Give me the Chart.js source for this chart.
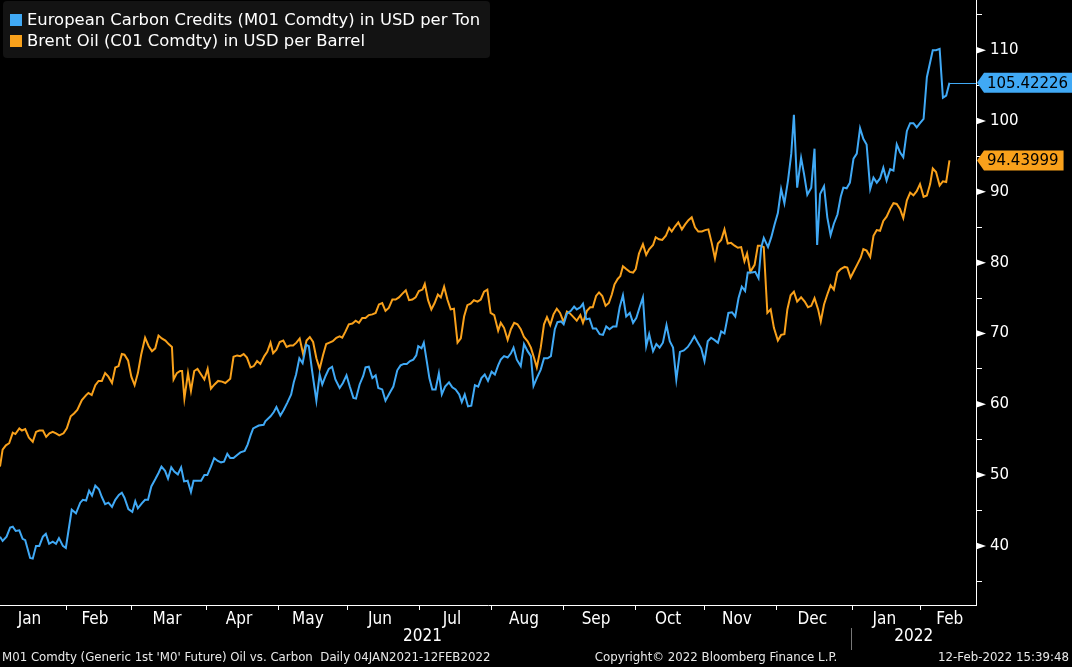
<!DOCTYPE html>
<html>
<head>
<meta charset="utf-8">
<script src="https://cdn.jsdelivr.net/npm/chart.js@4.4.0/dist/chart.umd.min.js"></script>
<style>
  html, body { margin: 0; padding: 0; background: #000; }
  #wrap { width: 1072px; height: 667px; }
</style>
</head>
<body>
<div id="wrap"><canvas id="chart" width="1072" height="667"></canvas></div>
<script>
// x = trading day index counted from 04-Jan-2021
const carbonDay = [
  0, 0.8, 2.0, 3.1, 3.9, 4.8, 5.9, 6.9, 7.7, 9.2, 10.0, 11.0, 12.0, 13.1, 14.0, 15.0, 16.1, 17.1, 18.0, 19.2,
  20.1, 21.9, 23.2, 24.5, 25.3, 26.3, 27.2, 28.1, 29.1, 30.2, 31.1, 32.1, 33.1, 34.2, 35.2, 36.3, 37.2, 38.0, 39.2, 40.4,
  41.3, 42.1, 43.3, 44.3, 45.2, 46.2, 47.4, 48.4, 49.3, 50.4, 51.3, 52.3, 53.2, 54.3, 55.3, 56.2, 57.3, 58.3, 59.1, 60.2,
  61.4, 62.4, 63.3, 64.4, 65.4, 66.5, 67.5, 68.4, 69.4, 70.3, 71.3, 72.6, 73.4, 74.7, 75.6, 76.5,
  77.3, 79.0, 80.5, 81.0, 82.6, 83.6, 84.4, 85.6, 86.6, 87.7, 88.9, 89.7, 90.4, 91.4, 92.4, 93.5, 94.3, 95.3, 96.6, 97.6,
  98.4, 99.4, 100.4, 101.4, 102.4, 103.7, 104.7, 105.8, 106.8, 107.9, 108.7, 109.8, 110.9, 111.6, 112.6, 113.7, 114.7, 115.5, 116.7, 117.7,
  119.1, 120.1, 121.3, 122.3, 123.3, 124.2, 125.2, 126.2, 127.1, 127.7, 128.7, 129.4, 130.3, 131.1, 132.0, 133.0, 134.0, 134.9, 135.9, 137.1,
  138.1, 139.1, 140.2, 141.0, 141.9, 142.9, 143.9, 145.0, 146.0, 147.0, 148.0, 149.0, 150.1, 151.1, 152.1, 152.9,
  153.9, 155.0, 156.0, 156.8, 157.8, 159.0, 160.0, 161.1, 162.1, 162.9, 163.9, 165.1, 166.1, 167.2, 168.2, 169.4, 170.2, 171.3, 172.1, 173.1,
  174.3, 175.3, 176.1, 177.2, 178.0, 179.0, 180.0, 181.0, 182.0, 183.1, 184.1, 185.1, 186.1, 187.2, 188.2, 189.2, 190.2, 191.2, 192.3, 193.3,
  194.3, 195.3, 196.3, 197.3, 198.2, 199.4, 200.4, 201.4, 202.4, 203.5, 204.5, 205.5, 206.5, 207.6, 208.8, 210.0, 211.0, 212.0, 213.1, 214.1,
  215.1, 216.1, 217.1, 218.1, 219.2, 220.2, 221.2, 222.4, 223.5, 224.5, 225.5, 226.5, 227.5, 228.3, 229.6, 230.6, 231.6, 232.4,
  233.2, 234.5, 235.5, 236.5, 237.5, 238.5, 239.5, 240.6, 241.6, 242.4, 243.4, 244.6, 245.5, 246.5, 247.7, 248.7, 249.5, 250.4, 251.6, 252.6,
  253.6, 254.6, 255.7, 256.7, 257.5, 258.5, 259.5, 260.6, 261.6, 262.6, 263.6, 264.6, 265.7, 266.7, 267.7, 268.7, 269.7, 270.7, 271.8, 272.8,
  273.8, 274.8, 275.8, 276.9, 277.9, 278.9, 279.9, 280.9, 282.0, 283.0, 284.0, 284.8, 285.8, 286.9, 287.9, 288.9, 289.9
];
const carbonPrice = [
  41.3, 40.7, 41.3, 42.6, 42.7, 42.1, 42.2, 41.0, 40.8, 38.3, 38.2, 40.0, 40.0, 41.3, 41.7, 40.3, 40.6, 40.3, 41.1, 40.0,
  39.7, 45.1, 44.6, 46.1, 46.5, 46.4, 47.8, 47.1, 48.5, 48.0, 46.9, 45.9, 46.1, 45.5, 46.5, 47.2, 47.5, 46.8, 45.2, 44.8,
  46.3, 45.3, 46.0, 46.5, 46.5, 48.4, 49.4, 50.3, 51.2, 50.6, 49.5, 51.1, 50.5, 50.1, 51.1, 49.1, 49.2, 47.6, 49.2, 49.2,
  49.2, 50.0, 50.0, 51.2, 52.4, 52.0, 51.8, 51.9, 53.0, 52.4, 52.4, 52.9, 53.2, 53.4, 54.3, 55.6,
  56.6, 57.0, 57.1, 57.6, 58.3, 58.9, 59.6, 58.4, 59.2, 60.2, 61.4, 63.1, 64.2, 66.5, 65.8, 68.4, 68.2, 64.7, 60.5, 64.2,
  62.8, 64.0, 65.0, 65.3, 63.5, 62.3, 63.0, 64.1, 62.5, 60.9, 60.8, 62.8, 64.0, 65.2, 65.3, 63.7, 64.1, 62.3, 62.1, 60.5,
  61.7, 62.5, 64.8, 65.5, 65.7, 65.7, 66.1, 66.3, 66.9, 68.2, 67.9, 68.7, 66.1, 63.7, 62.1, 62.1, 64.4, 61.4, 62.5, 63.1,
  62.4, 62.1, 61.4, 60.3, 61.4, 59.7, 59.8, 62.7, 62.5, 63.7, 64.2, 63.3, 64.6, 64.2, 65.5, 66.3,
  66.8, 66.6, 67.2, 68.0, 66.3, 65.4, 68.5, 67.5, 66.8, 62.6, 63.7, 64.9, 66.5, 66.5, 66.8, 70.6, 71.6, 71.7, 71.3, 72.8,
  73.2, 73.8, 73.4, 73.7, 74.2, 72.0, 72.1, 70.7, 70.7, 69.9, 69.8, 71.0, 70.6, 71.0, 71.0, 73.7, 75.4, 72.4, 72.9, 71.5,
  72.2, 73.7, 75.1, 68.2, 69.9, 67.5, 68.5, 68.0, 68.7, 71.2, 68.9, 68.0, 63.5, 67.4, 67.6, 68.1, 68.8, 69.6, 68.7, 67.9,
  66.1, 68.9, 69.4, 69.1, 68.7, 70.3, 70.0, 72.9, 73.0, 72.4, 75.0, 76.6, 76.0, 78.6, 78.6, 78.7, 77.8, 82.1,
  83.5, 82.2, 83.6, 85.4, 87.0, 90.4, 88.4, 91.6, 95.4, 100.9, 90.6, 94.8, 92.5, 89.6, 90.6, 96.1, 82.5, 89.7, 90.8, 86.4,
  83.9, 85.5, 86.8, 89.3, 90.6, 90.5, 91.3, 94.7, 95.4, 99.0, 97.5, 96.7, 90.4, 92.0, 91.3, 91.9, 93.4, 91.6, 93.2, 93.0,
  96.7, 95.6, 94.9, 98.6, 99.7, 99.7, 99.1, 99.7, 100.3, 106.2, 108.3, 110.0, 110.0, 110.2, 103.3, 103.6, 105.42226
];

const oilDay = [
  0, 0.8, 1.8, 2.8, 3.9, 4.7, 5.9, 6.7, 7.7, 8.8, 10.0, 11.0, 12.0, 13.1, 14.1, 15.1, 16.1, 17.1, 18.1, 19.4,
  20.4, 21.6, 22.6, 23.6, 25.0, 26.3, 27.0, 28.0, 29.1, 30.1, 31.1, 32.1, 33.1, 34.2, 35.2, 36.2, 37.2, 38.0, 39.1, 40.1,
  41.1, 42.1, 43.1, 44.3, 45.4, 46.4, 47.4, 48.4, 49.4, 50.5, 51.5, 52.5, 53.0, 54.0, 55.0, 55.6, 56.3, 57.4, 58.3, 59.3,
  60.3, 61.4, 62.4, 63.4, 64.4, 65.5, 66.6, 67.8, 68.8, 70.3, 71.3, 72.4, 73.4, 74.4, 75.4, 76.5,
  77.5, 78.5, 79.5, 80.7, 81.6, 82.6, 83.4, 84.4, 85.4, 86.5, 87.5, 88.5, 89.5, 90.5, 91.5, 92.6, 93.6, 94.6, 95.6, 96.6,
  97.6, 98.6, 99.6, 100.6, 101.6, 102.7, 103.7, 104.5, 105.5, 106.5, 107.6, 108.6, 109.6, 110.6, 111.6, 112.6, 113.7, 114.7, 115.7, 116.7,
  117.7, 118.7, 119.8, 120.8, 121.8, 122.8, 123.9, 124.9, 125.9, 126.9, 127.9, 129.0, 129.7, 130.7, 131.7, 132.7, 133.7, 134.6, 135.6, 136.6,
  137.6, 138.6, 139.7, 140.7, 141.7, 142.7, 143.7, 144.7, 145.8, 146.8, 147.8, 148.8, 149.8, 150.9, 152.1, 152.9,
  153.9, 155.0, 156.0, 157.0, 158.0, 159.0, 160.0, 161.1, 162.1, 163.1, 163.9, 165.1, 166.1, 167.0, 168.0, 169.0, 170.0, 171.0, 172.1, 173.1,
  174.1, 175.1, 176.1, 177.2, 178.0, 179.2, 180.2, 181.0, 182.0, 182.9, 183.9, 184.9, 185.9, 186.8, 187.6, 188.6, 189.4, 190.2, 191.2, 192.3,
  193.3, 194.1, 195.1, 196.3, 197.3, 198.2, 199.4, 200.2, 201.2, 202.2, 203.3, 204.3, 205.1, 206.1, 207.1, 208.2, 209.2, 210.2, 211.2, 212.2,
  213.2, 214.3, 215.3, 216.3, 217.3, 218.3, 219.2, 220.2, 221.2, 222.2, 223.2, 224.3, 225.3, 226.3, 227.3, 228.1, 229.1, 230.4, 231.4, 232.2,
  233.2, 234.3, 235.3, 236.3, 237.5, 238.5, 239.5, 240.4, 241.4, 242.4, 243.4, 244.6, 245.7, 246.7, 247.7, 248.7, 249.8, 250.6, 251.6, 252.6,
  253.6, 254.6, 255.7, 256.7, 257.9, 258.7, 259.7, 260.8, 261.8, 262.8, 263.6, 264.6, 265.7, 266.7, 267.7, 268.7, 269.7, 270.7, 271.8, 272.8,
  273.8, 274.8, 275.8, 276.9, 277.9, 278.9, 279.9, 280.9, 282.0, 283.0, 284.0, 284.8, 285.8, 286.9, 287.9, 288.9, 289.9
];
const oilPrice = [
  51.2, 53.6, 54.2, 54.5, 56.0, 55.8, 56.6, 56.3, 56.5, 55.3, 54.7, 56.1, 56.3, 56.3, 55.4, 55.9, 56.1, 55.9, 55.6, 55.9,
  56.6, 58.3, 58.7, 59.2, 60.6, 61.3, 61.6, 61.3, 62.7, 63.3, 63.3, 64.4, 63.9, 63.0, 65.2, 65.4, 67.1, 67.0, 66.2, 63.9,
  62.7, 64.4, 67.0, 69.4, 68.2, 67.5, 67.9, 69.7, 69.3, 69.0, 68.5, 68.1, 63.5, 64.4, 64.7, 64.7, 60.8, 64.4, 61.9, 64.7,
  65.0, 64.2, 63.5, 65.0, 62.2, 62.8, 63.3, 63.2, 63.0, 63.6, 66.7, 66.9, 66.8, 67.1, 66.6, 65.2,
  65.4, 66.1, 65.7, 66.8, 67.4, 68.7, 67.2, 67.7, 68.8, 69.0, 68.1, 68.3, 68.3, 68.7, 69.3, 67.0, 69.0, 69.5, 68.8, 66.5,
  65.0, 66.9, 68.5, 68.7, 68.9, 69.4, 69.6, 69.4, 70.3, 71.3, 71.4, 71.8, 71.5, 72.2, 72.2, 72.6, 72.7, 72.9, 74.1, 74.3,
  73.2, 73.6, 74.8, 74.8, 75.1, 75.6, 76.1, 74.7, 74.8, 75.1, 76.0, 76.2, 77.0, 74.7, 73.4, 74.3, 75.5, 75.1, 76.6, 74.8,
  73.4, 73.5, 68.7, 69.3, 72.4, 74.0, 74.2, 74.7, 74.5, 74.8, 75.9, 76.2, 72.9, 72.6, 70.4, 71.5,
  70.8, 69.1, 70.6, 71.5, 71.3, 70.6, 69.5, 68.9, 68.0, 66.5, 65.2, 68.0, 71.3, 72.3, 71.2, 72.7, 73.5, 72.9, 71.6, 73.1,
  72.8, 72.3, 71.8, 72.6, 71.5, 73.2, 73.7, 73.7, 75.3, 75.8, 75.3, 73.9, 74.3, 75.5, 76.9, 77.7, 78.1, 79.5, 79.1, 78.7,
  78.6, 79.1, 81.3, 82.6, 81.1, 81.9, 82.5, 83.6, 83.3, 83.2, 83.8, 84.9, 84.4, 85.1, 85.7, 84.7, 85.4, 86.0, 86.4, 85.0,
  84.4, 84.4, 84.6, 84.7, 82.8, 80.6, 82.7, 83.2, 84.7, 82.7, 82.8, 82.4, 82.1, 82.2, 80.2, 81.3, 78.7, 79.7, 82.4, 82.4,
  82.2, 72.9, 73.4, 70.8, 69.0, 69.8, 69.9, 73.4, 75.4, 75.9, 74.5, 75.1, 74.5, 73.7, 73.9, 75.0, 73.4, 71.7, 74.1, 75.5,
  76.8, 76.2, 78.6, 79.1, 79.4, 79.3, 77.9, 78.9, 79.8, 80.7, 81.9, 81.7, 80.8, 83.8, 84.6, 84.5, 85.9, 86.5, 87.6, 88.4,
  88.3, 87.6, 86.3, 88.8, 89.9, 89.5, 90.1, 91.1, 89.3, 89.5, 91.1, 93.3, 92.8, 90.9, 91.5, 91.4, 94.43999
];

const monthLabels = ['Jan', 'Feb', 'Mar', 'Apr', 'May', 'Jun', 'Jul', 'Aug', 'Sep', 'Oct', 'Nov', 'Dec', 'Jan', 'Feb'];
const monthLabelDays = [9, 29, 51, 73, 94, 116, 138, 160, 182, 204, 225, 248, 270, 290];
const monthStartDays = [20, 40, 63, 85, 106, 128, 150, 172, 194, 215, 237, 260, 281];
const yearLabels = ['2021', '2022'];
const yearLabelDays = [129, 279];
const yearBreakDay = 260;
const yTicks = [35, 40, 45, 50, 55, 60, 65, 70, 75, 80, 85, 90, 95, 100, 105, 110, 115];

const BLUE = '#40a9f5';
const ORANGE = '#f9a11b';
const NARROW = '"Liberation Sans Narrow", "DejaVu Sans Condensed", sans-serif';
const WIDE = '"DejaVu Sans", Verdana, sans-serif';

function pairs(xs, ys) {
  return xs.map((v, i) => ({ x: v, y: ys[i] }));
}

// bloomberg style extras: arrow ticks, month marks, year row, legend box, last value tags, footer
const bbgDecor = {
  id: 'bbgDecor',
  afterDraw(chart) {
    const ctx = chart.ctx;
    const a = chart.chartArea;
    const xs = chart.scales.x;
    const ys = chart.scales.y;
    ctx.save();

    // major y ticks drawn as little arrows
    ctx.fillStyle = '#fff';
    yTicks.filter(v => v % 10 === 0).forEach(v => {
      const py = ys.getPixelForValue(v);
      ctx.beginPath();
      ctx.moveTo(a.right, py - 3.5);
      ctx.lineTo(a.right + 10, py);
      ctx.lineTo(a.right, py + 3.5);
      ctx.closePath();
      ctx.fill();
    });

    // month boundary marks
    ctx.strokeStyle = '#fff';
    ctx.lineWidth = 1;
    monthStartDays.forEach(d => {
      const px = Math.round(xs.getPixelForValue(d)) + 0.5;
      ctx.beginPath();
      ctx.moveTo(px, a.bottom);
      ctx.lineTo(px, a.bottom + 5);
      ctx.stroke();
    });

    // year row
    ctx.font = '17px ' + NARROW;
    ctx.fillStyle = '#fff';
    ctx.textAlign = 'center';
    ctx.textBaseline = 'middle';
    yearLabels.forEach((t, i) => ctx.fillText(t, xs.getPixelForValue(yearLabelDays[i]), a.bottom + 32));
    const bx = Math.round(xs.getPixelForValue(yearBreakDay)) - 0.5;
    ctx.strokeStyle = '#777';
    ctx.beginPath();
    ctx.moveTo(bx, a.bottom + 23);
    ctx.lineTo(bx, a.bottom + 45);
    ctx.stroke();

    // connector from last carbon point to the axis
    const c = chart.data.datasets[0].data;
    const cl = c[c.length - 1];
    ctx.strokeStyle = BLUE;
    ctx.beginPath();
    ctx.moveTo(xs.getPixelForValue(cl.x), Math.round(ys.getPixelForValue(cl.y)) + 0.5);
    ctx.lineTo(a.right, Math.round(ys.getPixelForValue(cl.y)) + 0.5);
    ctx.stroke();

    // last value tags
    ctx.font = '15px ' + WIDE;
    ctx.textAlign = 'left';
    chart.data.datasets.forEach(ds => {
      const last = ds.data[ds.data.length - 1];
      const txt = last.y.toFixed(5);
      const py = ys.getPixelForValue(last.y);
      const tx = a.right + 11;
      const right = Math.min(chart.width, tx + ctx.measureText(txt).width + 5);
      ctx.fillStyle = ds.borderColor;
      ctx.beginPath();
      ctx.moveTo(a.right + 1, py);
      ctx.lineTo(a.right + 8, py - 10);
      ctx.lineTo(right, py - 10);
      ctx.lineTo(right, py + 10);
      ctx.lineTo(a.right + 8, py + 10);
      ctx.closePath();
      ctx.fill();
      ctx.fillStyle = '#000';
      ctx.fillText(txt, tx, py + 1);
    });

    // legend box
    ctx.fillStyle = '#131313';
    ctx.beginPath();
    ctx.roundRect(3, 1, 487, 57, 4);
    ctx.fill();
    ctx.font = '16.4px ' + WIDE;
    chart.data.datasets.forEach((ds, i) => {
      const cy = 20 + i * 21;
      ctx.fillStyle = ds.borderColor;
      ctx.fillRect(10, cy - 6, 12, 12);
      ctx.fillStyle = '#fff';
      ctx.fillText(ds.label, 27, cy + 1);
    });

    // footer
    ctx.font = '13.1px ' + NARROW;
    ctx.fillStyle = '#e8e8e8';
    const fy = chart.height - 9;
    ctx.textAlign = 'left';
    ctx.fillText("M01 Comdty (Generic 1st 'M0' Future) Oil vs. Carbon  Daily 04JAN2021-12FEB2022", 2, fy);
    ctx.textAlign = 'center';
    ctx.fillText('Copyright\u00a9 2022 Bloomberg Finance L.P.', 716, fy);
    ctx.textAlign = 'right';
    ctx.fillText('12-Feb-2022 15:39:48', chart.width - 3, fy);

    ctx.restore();
  }
};

new Chart(document.getElementById('chart'), {
  type: 'line',
  data: {
    datasets: [
      {
        label: 'European Carbon Credits (M01 Comdty) in USD per Ton',
        data: pairs(carbonDay, carbonPrice),
        borderColor: BLUE,
        borderWidth: 2,
        pointRadius: 0,
        tension: 0
      },
      {
        label: 'Brent Oil (C01 Comdty) in USD per Barrel',
        data: pairs(oilDay, oilPrice),
        borderColor: ORANGE,
        borderWidth: 2,
        pointRadius: 0,
        tension: 0
      }
    ]
  },
  options: {
    responsive: false,
    animation: false,
    layout: { padding: { left: 0, right: 0, top: 0, bottom: 38 } },
    plugins: { legend: { display: false }, tooltip: { enabled: false } },
    scales: {
      x: {
        type: 'linear',
        min: 0,
        max: 298,
        afterBuildTicks: s => { s.ticks = monthLabelDays.map(v => ({ value: v })); },
        afterFit: s => { s.height = 24; s.paddingLeft = 0; s.paddingRight = 0; },
        grid: { display: false, drawTicks: false },
        border: { display: true, color: '#fff', width: 1 },
        ticks: {
          color: '#fff',
          font: { family: NARROW, size: 17 },
          padding: 4,
          maxRotation: 0,
          autoSkip: false,
          callback: (v, i) => monthLabels[i]
        }
      },
      y: {
        position: 'right',
        min: 31.65,
        max: 117.1,
        afterBuildTicks: s => { s.ticks = yTicks.map(v => ({ value: v })); },
        afterFit: s => { s.width = 96; s.paddingTop = 0; s.paddingBottom = 0; },
        grid: { display: true, drawOnChartArea: false, drawTicks: true, tickLength: 6, color: '#fff' },
        border: { display: true, color: '#fff', width: 1 },
        ticks: {
          color: '#fff',
          font: { family: WIDE, size: 15 },
          padding: 8,
          autoSkip: false,
          callback: v => (v % 10 === 0 ? String(v) : '')
        }
      }
    }
  },
  plugins: [bbgDecor]
});
</script>
</body>
</html>
